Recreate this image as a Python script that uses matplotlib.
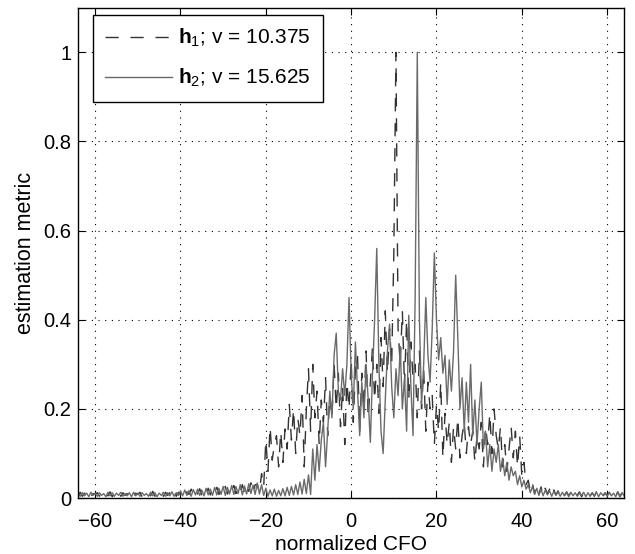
import numpy as np
import matplotlib
matplotlib.use("Agg")
import matplotlib.pyplot as plt

plt.rcParams['font.family'] = ['Liberation Sans', 'DejaVu Sans']
plt.rcParams['mathtext.fontset'] = 'custom'
plt.rcParams['mathtext.rm'] = 'Liberation Sans'
plt.rcParams['mathtext.bf'] = 'Liberation Sans:bold'
plt.rcParams['mathtext.it'] = 'Liberation Sans:italic'

# normalized CFO grid, step 0.5 from -64 to 64
cfo = np.arange(-64, 64.25, 0.5)

# h1, v = 10.375 (dashed)
h1 = [
    0.006, 0.013, 0.004, 0.011, 0.007, 0.014, 0.003, 0.010,   # -64
    0.008, 0.012, 0.004, 0.013, 0.006, 0.010, 0.005, 0.014,   # -60
    0.003, 0.011, 0.007, 0.013, 0.004, 0.012, 0.006, 0.010,   # -56
    0.005, 0.014, 0.004, 0.011, 0.008, 0.013, 0.003, 0.012,   # -52
    0.006, 0.010, 0.005, 0.015, 0.004, 0.012, 0.007, 0.011,   # -48
    0.004, 0.013, 0.006, 0.012, 0.005, 0.016, 0.004, 0.013,   # -44
    0.007, 0.018, 0.005, 0.014, 0.008, 0.020, 0.006, 0.015,   # -40
    0.009, 0.021, 0.006, 0.017, 0.010, 0.022, 0.007, 0.019,   # -36
    0.010, 0.024, 0.008, 0.020, 0.012, 0.026, 0.009, 0.022,   # -32
    0.012, 0.028, 0.010, 0.025, 0.014, 0.030, 0.011, 0.027,   # -28
    0.015, 0.034, 0.012, 0.030, 0.030, 0.012, 0.055, 0.025,   # -24
    0.130, 0.060, 0.160, 0.085, 0.120, 0.140, 0.070, 0.150,   # -20
    0.080, 0.155, 0.110, 0.210, 0.130, 0.200, 0.100, 0.180,   # -16
    0.140, 0.230, 0.070, 0.200, 0.290, 0.150, 0.300, 0.180,   # -12
    0.240, 0.120, 0.220, 0.170, 0.270, 0.140, 0.230, 0.180,   # -8
    0.300, 0.200, 0.280, 0.160, 0.250, 0.120, 0.260, 0.200,   # -4
    0.310, 0.170, 0.290, 0.320, 0.150, 0.280, 0.200, 0.330,   # 0
    0.180, 0.260, 0.340, 0.220, 0.300, 0.190, 0.360, 0.250,   # 4
    0.420, 0.280, 0.380, 0.300, 0.550, 1.000, 0.380, 0.300,   # 8
    0.420, 0.250, 0.400, 0.220, 0.350, 0.270, 0.300, 0.180,   # 12
    0.330, 0.200, 0.290, 0.150, 0.260, 0.200, 0.230, 0.120,   # 16
    0.210, 0.150, 0.260, 0.090, 0.190, 0.120, 0.170, 0.080,   # 20
    0.160, 0.110, 0.180, 0.090, 0.140, 0.170, 0.100, 0.160,   # 24
    0.120, 0.150, 0.080, 0.140, 0.110, 0.170, 0.070, 0.160,   # 28
    0.120, 0.190, 0.100, 0.200, 0.140, 0.110, 0.160, 0.070,   # 32
    0.120, 0.060, 0.110, 0.160, 0.090, 0.150, 0.070, 0.140,   # 36
    0.050, 0.080, 0.030, 0.040, 0.015, 0.032, 0.010, 0.028,   # 40
    0.008, 0.025, 0.006, 0.022, 0.009, 0.020, 0.005, 0.018,   # 44
    0.007, 0.016, 0.004, 0.015, 0.006, 0.014, 0.005, 0.013,   # 48
    0.004, 0.012, 0.006, 0.014, 0.003, 0.011, 0.007, 0.013,   # 52
    0.005, 0.012, 0.004, 0.014, 0.006, 0.011, 0.003, 0.012,   # 56
    0.006, 0.013, 0.004, 0.012, 0.005, 0.014, 0.003, 0.011,   # 60
    0.006,                                                    # 64
]

# h2, v = 15.625 (solid)
h2 = [
    0.010, 0.004, 0.012, 0.005, 0.011, 0.003, 0.013, 0.006,   # -64
    0.011, 0.004, 0.012, 0.006, 0.010, 0.003, 0.013, 0.005,   # -60
    0.012, 0.004, 0.011, 0.006, 0.013, 0.004, 0.010, 0.005,   # -56
    0.012, 0.003, 0.013, 0.005, 0.011, 0.004, 0.012, 0.006,   # -52
    0.010, 0.004, 0.013, 0.005, 0.012, 0.003, 0.011, 0.006,   # -48
    0.013, 0.004, 0.012, 0.005, 0.014, 0.004, 0.012, 0.006,   # -44
    0.016, 0.005, 0.018, 0.006, 0.017, 0.004, 0.019, 0.007,   # -40
    0.020, 0.006, 0.018, 0.005, 0.022, 0.007, 0.020, 0.006,   # -36
    0.024, 0.007, 0.022, 0.008, 0.026, 0.006, 0.024, 0.009,   # -32
    0.028, 0.008, 0.026, 0.010, 0.030, 0.007, 0.027, 0.009,   # -28
    0.032, 0.010, 0.029, 0.008, 0.034, 0.009, 0.030, 0.006,   # -24
    0.022, 0.004, 0.018, 0.005, 0.020, 0.004, 0.017, 0.005,   # -20
    0.021, 0.005, 0.024, 0.006, 0.026, 0.007, 0.030, 0.008,   # -16
    0.036, 0.009, 0.042, 0.010, 0.052, 0.008, 0.110, 0.040,   # -12
    0.120, 0.060, 0.130, 0.170, 0.070, 0.150, 0.240, 0.180,   # -8
    0.320, 0.370, 0.240, 0.220, 0.290, 0.230, 0.300, 0.450,   # -4
    0.280, 0.200, 0.350, 0.240, 0.140, 0.260, 0.180, 0.300,   # 0
    0.220, 0.125, 0.280, 0.400, 0.560, 0.300, 0.150, 0.100,   # 4
    0.220, 0.330, 0.390, 0.250, 0.180, 0.290, 0.230, 0.340,   # 8
    0.200, 0.270, 0.150, 0.410, 0.250, 0.140, 0.450, 1.000,   # 12
    0.400, 0.210, 0.300, 0.450, 0.320, 0.260, 0.380, 0.550,   # 16
    0.400, 0.310, 0.360, 0.280, 0.320, 0.210, 0.310, 0.240,   # 20
    0.330, 0.500, 0.360, 0.200, 0.270, 0.150, 0.260, 0.170,   # 24
    0.300, 0.140, 0.220, 0.120, 0.200, 0.260, 0.110, 0.150,   # 28
    0.070, 0.120, 0.060, 0.110, 0.080, 0.120, 0.060, 0.090,   # 32
    0.050, 0.080, 0.040, 0.070, 0.050, 0.060, 0.030, 0.050,   # 36
    0.025, 0.040, 0.020, 0.030, 0.012, 0.026, 0.008, 0.022,   # 40
    0.006, 0.020, 0.005, 0.018, 0.007, 0.016, 0.004, 0.015,   # 44
    0.006, 0.014, 0.004, 0.013, 0.005, 0.012, 0.003, 0.013,   # 48
    0.005, 0.012, 0.004, 0.011, 0.006, 0.013, 0.003, 0.012,   # 52
    0.004, 0.011, 0.005, 0.013, 0.003, 0.012, 0.006, 0.011,   # 56
    0.004, 0.012, 0.005, 0.011, 0.003, 0.013, 0.004, 0.012,   # 60
    0.005,                                                    # 64
]

labels = [r'$\mathbf{h}_1$; v = 10.375', r'$\mathbf{h}_2$; v = 15.625']

fig = plt.figure(figsize=(6.35, 5.54), dpi=100)
ax = fig.add_axes([0.123, 0.101, 0.860, 0.885])

ax.plot(cfo, h1, color='#333333', linestyle=(0, (9.5, 8.5)), linewidth=1.0, label=labels[0])
ax.plot(cfo, h2, color='#6a6a6a', linestyle='-', linewidth=1.0, label=labels[1])

ax.set_xlim(-64, 64)
ax.set_ylim(0, 1.1)
ax.set_xticks([-60, -40, -20, 0, 20, 40, 60])
ax.set_yticks([0, 0.2, 0.4, 0.6, 0.8, 1.0])
ax.set_yticklabels(['0', '0.2', '0.4', '0.6', '0.8', '1'])
ax.grid(True, color='black', linestyle=(0, (1, 5)), linewidth=0.8)
ax.tick_params(axis='both', which='both', direction='in', top=True, right=True,
               labelsize=14.5, length=5, width=0.8)
ax.tick_params(axis='x', pad=10)
ax.tick_params(axis='y', pad=5)
for sp in ax.spines.values():
    sp.set_linewidth(1.0)

ax.set_xlabel('normalized CFO', fontsize=15, labelpad=3)
ax.set_ylabel('estimation metric', fontsize=15.5, labelpad=5)

leg = ax.legend(loc='upper left', bbox_to_anchor=(0.027, 0.986), borderaxespad=0,
                fontsize=15, frameon=True, fancybox=False, framealpha=1,
                handlelength=3.2, handletextpad=0.3, borderpad=0.6, labelspacing=0.85)
leg.get_frame().set_edgecolor('black')
leg.get_frame().set_linewidth(1.0)

fig.savefig('out.png', dpi=100)
